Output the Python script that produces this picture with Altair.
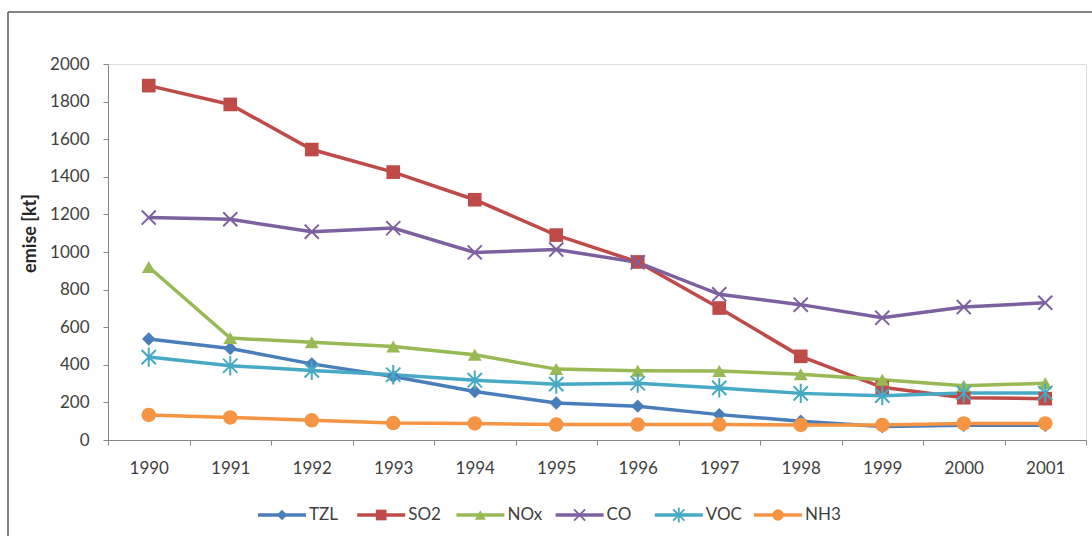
import altair as alt
import pandas as pd

# Emissions 1990-2001 by pollutant [kt]
years = [str(y) for y in range(1990, 2002)]
series = ["TZL", "SO2", "NOx", "CO", "VOC", "NH3"]

tzl = [537, 487, 405, 338, 258, 197, 180, 135, 100, 72, 78, 78]
so2 = [1885, 1785, 1545, 1425, 1278, 1090, 947, 702, 445, 280, 225, 220]
nox = [920, 542, 520, 497, 453, 377, 368, 367, 350, 320, 288, 302]
co = [1183, 1174, 1108, 1127, 998, 1013, 945, 775, 720, 650, 707, 730]
voc = [441, 395, 370, 347, 318, 297, 302, 277, 248, 236, 250, 250]
nh3 = [133, 120, 105, 90, 88, 82, 82, 82, 80, 80, 88, 88]

colors = ["#4A7EBB", "#BE4B48", "#98B954", "#7D60A0", "#46AAC5", "#F59443"]
x_mark = "M-1,-1L1,1M-1,1L1,-1"
asterisk = "M-1,-1L1,1M-1,1L1,-1M0,-1.35L0,1.35"
shapes = ["diamond", "square", "triangle-up", x_mark, asterisk, "circle"]
plot_sizes = [180, 210, 200, 175, 185, 230]
legend_sizes = [110, 130, 120, 100, 110, 140]

values = [tzl, so2, nox, co, voc, nh3]
df = pd.DataFrame(
    [{"year": y, "series": s, "value": v}
     for s, vals in zip(series, values) for y, v in zip(years, vals)]
)
legend_df = pd.DataFrame({"series": series})
frame_df = pd.DataFrame({"k": [0]})

W, H = 978, 376

color_scale = alt.Scale(domain=series, range=colors)
shape_scale = alt.Scale(domain=series, range=shapes)

x_enc = alt.X(
    "year:O",
    bandPosition=0.5,
    scale=alt.Scale(type="band", paddingInner=0, paddingOuter=0),
    axis=alt.Axis(title=None, tickBand="extent", labelAngle=0, labelPadding=15),
)
y_enc = alt.Y(
    "value:Q",
    scale=alt.Scale(domain=[0, 2000], nice=False),
    axis=alt.Axis(
        values=list(range(0, 2001, 200)),
        format="d",
        title="emise [kt]",
        titleFontWeight="bold",
        titleFontSize=18,
        titleX=-78,
        titleY=169,
        titleAngle=270,
        titleAlign="center",
        titleBaseline="middle",
        labelPadding=14,
        grid=False,
    ),
)
color_enc = alt.Color("series:N", scale=color_scale, legend=None)
shape_enc = alt.Shape("series:N", scale=shape_scale, legend=None)
size_enc = alt.Size("series:N", scale=alt.Scale(domain=series, range=plot_sizes), legend=None)

filled_names = ["TZL", "SO2", "NOx", "NH3"]
stroked_names = ["CO", "VOC"]

lines = alt.Chart(df).mark_line(strokeWidth=3.5).encode(
    x=x_enc, y=y_enc, color=color_enc, detail="series:N"
)
filled_pts = alt.Chart(df).transform_filter(
    alt.FieldOneOfPredicate(field="series", oneOf=filled_names)
).mark_point(filled=True, opacity=1).encode(
    x=x_enc, y=y_enc, color=color_enc, shape=shape_enc, size=size_enc
)
stroked_pts = alt.Chart(df).transform_filter(
    alt.FieldOneOfPredicate(field="series", oneOf=stroked_names)
).mark_point(filled=False, opacity=1, strokeWidth=2).encode(
    x=x_enc, y=y_enc, color=color_enc, shape=shape_enc, size=size_enc
)
main = alt.layer(lines, filled_pts, stroked_pts)

# Legend row below the axis: line segment, marker and label per series
leg_x = alt.X(
    "series:N",
    scale=alt.Scale(type="point", domain=series, range=[174, 670], padding=0),
    axis=None,
)
leg_x2 = alt.X2("series")
leg_y = alt.value(451)
leg_size = alt.Size("series:N", scale=alt.Scale(domain=series, range=legend_sizes), legend=None)

leg_lines = alt.Chart(legend_df).mark_rule(strokeWidth=3.5, xOffset=-24, x2Offset=24).encode(
    x=leg_x, x2=leg_x2, y=leg_y, color=color_enc
)
leg_filled = alt.Chart(legend_df).transform_filter(
    alt.FieldOneOfPredicate(field="series", oneOf=filled_names)
).mark_point(filled=True, opacity=1).encode(
    x=leg_x, y=leg_y, color=color_enc, shape=shape_enc, size=leg_size
)
leg_stroked = alt.Chart(legend_df).transform_filter(
    alt.FieldOneOfPredicate(field="series", oneOf=stroked_names)
).mark_point(filled=False, opacity=1, strokeWidth=1.8).encode(
    x=leg_x, y=leg_y, color=color_enc, shape=shape_enc, size=leg_size
)
leg_text = alt.Chart(legend_df).mark_text(
    align="left", baseline="middle", dx=27, fontSize=17, color="#404040"
).encode(x=leg_x, y=leg_y, text="series:N")
legend = alt.layer(leg_lines, leg_filled, leg_stroked, leg_text)

# Outer chart frame: top and left edges
frame_top = alt.Chart(frame_df).mark_rule(stroke="#5a5a5a", strokeWidth=1.5).encode(
    x=alt.value(-100), x2=alt.value(1010), y=alt.value(-52)
)
frame_left = alt.Chart(frame_df).mark_rule(stroke="#5a5a5a", strokeWidth=1.5).encode(
    x=alt.value(-100), y=alt.value(-52), y2=alt.value(500)
)

chart = alt.layer(frame_top, frame_left, main, legend).resolve_scale(
    x="independent", size="independent"
).properties(
    width=W,
    height=H,
    padding={"left": 108, "top": 64, "right": 6, "bottom": 96},
    autosize=alt.AutoSizeParams(type="none"),
    background="white",
).configure_view(
    strokeWidth=0
).configure(
    font="Lato"
).configure_axis(
    domainColor="#868686",
    tickColor="#868686",
    domainWidth=1,
    tickWidth=1,
    tickSize=5,
    labelColor="#404040",
    labelFontSize=17,
    titleColor="#262626",
)

chart.save("out.html", embed_options={"renderer": "svg", "actions": False})
